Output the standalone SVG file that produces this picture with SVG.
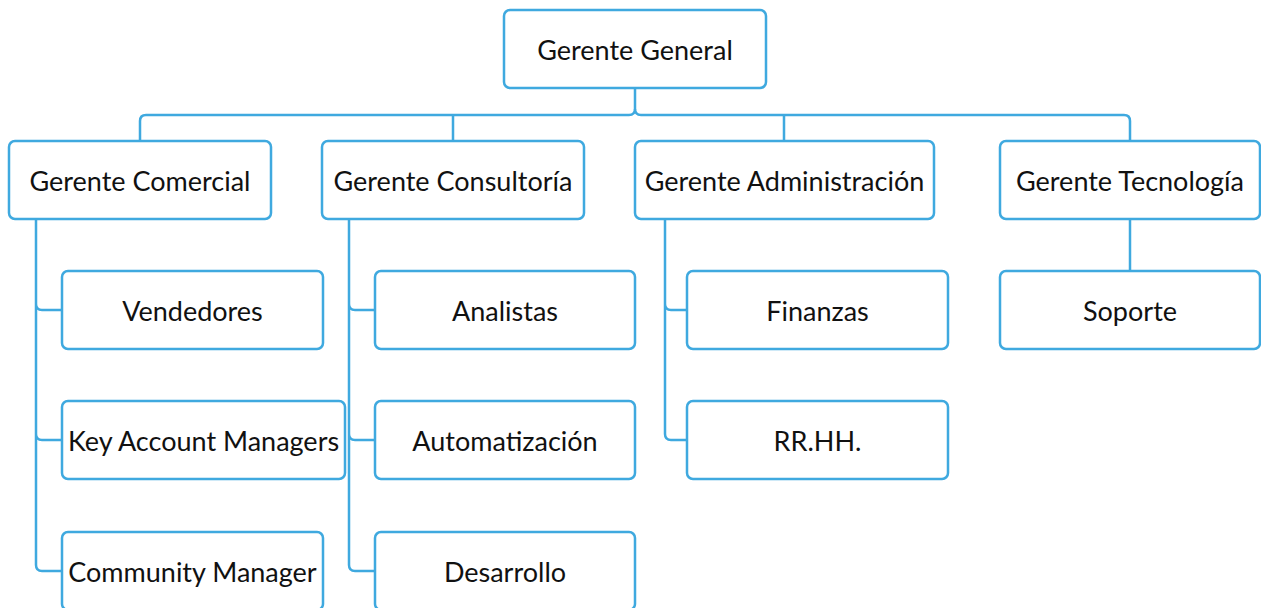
<svg xmlns="http://www.w3.org/2000/svg" width="1261" height="608" viewBox="0 0 1261 608">
<style>
.b{fill:#fff;stroke:#3fa9df;stroke-width:2.5}
.c{fill:none;stroke:#3fa9df;stroke-width:2.5}
text{font-family:Lato,"Open Sans","Liberation Sans",sans-serif;font-size:27px;fill:#111;text-anchor:middle;dominant-baseline:central}
</style>
<rect width="1261" height="608" fill="#fff"/>
<g id="connectors">
<path class="c" d="M635 88V109Q635 115 629 115H146Q140 115 140 121V141"/>
<path class="c" d="M635 109Q635 115 641 115H1124Q1130 115 1130 121V141"/>
<path class="c" d="M453 115V141M784 115V141"/>
<path class="c" d="M36 219V565Q36 571 42 571H62M36 304Q36 310 42 310H62M36 434Q36 440 42 440H62"/>
<path class="c" d="M349 219V565Q349 571 355 571H375M349 304Q349 310 355 310H375M349 434Q349 440 355 440H375"/>
<path class="c" d="M665 219V434Q665 440 671 440H687M665 304Q665 310 671 310H687"/>
<path class="c" d="M1130 219V271"/>
</g>
<g id="n-general"><rect class="b" x="504" y="10" width="262" height="78" rx="6"/><text x="635" y="49">Gerente General</text></g>
<g id="n-comercial"><rect class="b" x="9" y="141" width="262" height="78" rx="6"/><text x="140" y="180">Gerente Comercial</text></g>
<g id="n-consultoria"><rect class="b" x="322" y="141" width="262" height="78" rx="6"/><text x="453" y="180">Gerente Consultoría</text></g>
<g id="n-admin"><rect class="b" x="635" y="141" width="299" height="78" rx="6"/><text x="784.5" y="180">Gerente Administración</text></g>
<g id="n-tecnologia"><rect class="b" x="1000" y="141" width="260" height="78" rx="6"/><text x="1130" y="180">Gerente Tecnología</text></g>
<g id="n-vendedores"><rect class="b" x="62" y="271" width="261" height="78" rx="6"/><text x="192.5" y="310">Vendedores</text></g>
<g id="n-kam"><rect class="b" x="62" y="401" width="283" height="78" rx="6"/><text x="203.5" y="440">Key Account Managers</text></g>
<g id="n-community"><rect class="b" x="62" y="532" width="261" height="78" rx="6"/><text x="192.5" y="571">Community Manager</text></g>
<g id="n-analistas"><rect class="b" x="375" y="271" width="260" height="78" rx="6"/><text x="505" y="310">Analistas</text></g>
<g id="n-automatizacion"><rect class="b" x="375" y="401" width="260" height="78" rx="6"/><text x="505" y="440">Automatización</text></g>
<g id="n-desarrollo"><rect class="b" x="375" y="532" width="260" height="78" rx="6"/><text x="505" y="571">Desarrollo</text></g>
<g id="n-finanzas"><rect class="b" x="687" y="271" width="261" height="78" rx="6"/><text x="817.5" y="310">Finanzas</text></g>
<g id="n-rrhh"><rect class="b" x="687" y="401" width="261" height="78" rx="6"/><text x="817.5" y="440">RR.HH.</text></g>
<g id="n-soporte"><rect class="b" x="1000" y="271" width="260" height="78" rx="6"/><text x="1130" y="310">Soporte</text></g>
</svg>
